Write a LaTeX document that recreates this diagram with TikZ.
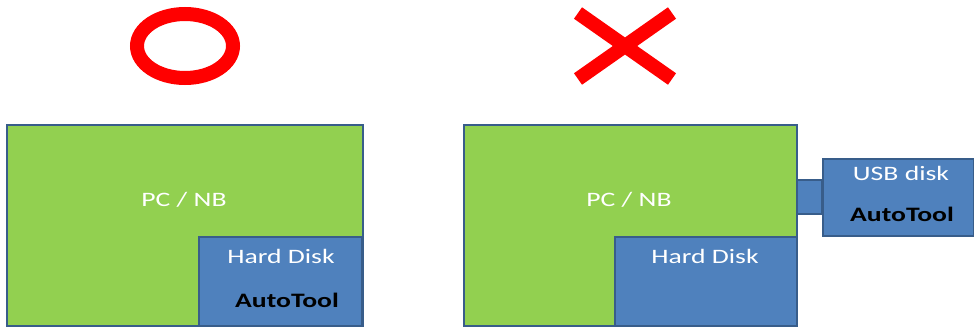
\documentclass[tikz,border=0pt]{standalone}
\usepackage{fontspec}
\setmainfont{Carlito}[FakeStretch=1.35]
\definecolor{pcgreen}{RGB}{146,208,80}
\definecolor{diskblue}{RGB}{79,129,189}
\definecolor{edgeblue}{RGB}{56,93,138}
\definecolor{markred}{RGB}{255,0,0}
\begin{document}
\begin{tikzpicture}[x=1pt,y=-1pt,
  box/.style={draw=edgeblue,line width=2.5pt,inner sep=0pt,outer sep=0pt,anchor=north west},
  pcbox/.style={box,fill=pcgreen},
  diskbox/.style={box,fill=diskblue},
  wlabel/.style={text=white,font=\fontsize{20.5}{22}\selectfont,inner sep=0pt},
  blabel/.style={text=black,font=\fontsize{20.5}{22}\selectfont\bfseries,inner sep=0pt}]
\useasboundingbox (0,0) rectangle (974,327);
% marks
\draw[markred,line width=14pt] (185,46) ellipse [x radius=48pt,y radius=32pt];
\draw[markred,line width=14pt] (578,13) -- (672,79);
\draw[markred,line width=14pt] (672,13) -- (578,79);
% left side
\node[pcbox,minimum width=356pt,minimum height=201pt] (pcL) at (7,125) {};
\node[diskbox,minimum width=163pt,minimum height=89pt] (hdL) at (199,237) {};
\node[wlabel] (pcLt) at (184,200) {PC / NB};
\node[wlabel] (hdLt) at (281,256) {Hard Disk};
\node[blabel] (atL) at (287,300) {AutoTool};
% right side
\node[pcbox,minimum width=333pt,minimum height=201pt] (pcR) at (464,125) {};
\node[diskbox,minimum width=182pt,minimum height=89pt] (hdR) at (615,237) {};
\node[diskbox,minimum width=25pt,minimum height=34pt] (plug) at (797,180) {};
\node[diskbox,minimum width=151pt,minimum height=77pt] (usb) at (823,159) {};
\node[wlabel] (pcRt) at (629,200) {PC / NB};
\node[wlabel] (hdRt) at (705,256) {Hard Disk};
\node[wlabel] (usbt) at (901,173) {USB disk};
\node[blabel] (atR) at (902,214) {AutoTool};
\end{tikzpicture}
\end{document}
